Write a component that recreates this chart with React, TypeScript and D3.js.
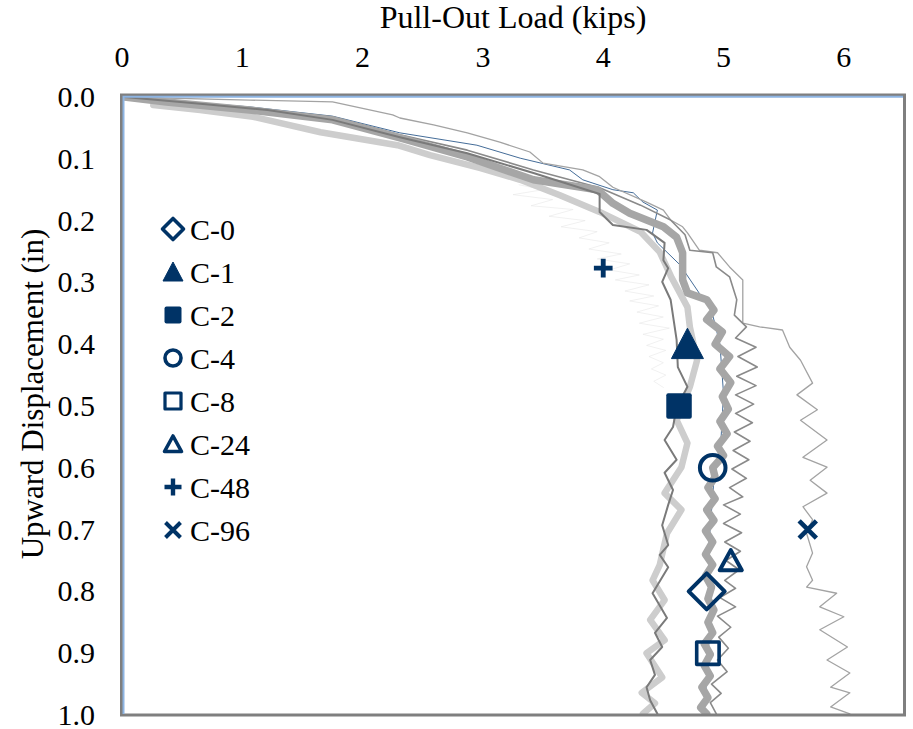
import React from 'react';
import * as d3 from 'd3';

// Pull-out curves: [load (kips), displacement (in)]
const lightThick: [number, number][] = [
  [0.26, 0.013], [0.65, 0.021], [1.09, 0.032], [1.65, 0.057], [2.29, 0.078], [2.56, 0.094],
  [2.98, 0.115], [3.31, 0.134], [3.64, 0.159], [3.97, 0.186], [4.31, 0.218], [4.47, 0.251],
  [4.57, 0.293], [4.70, 0.340], [4.72, 0.372], [4.78, 0.426], [4.72, 0.469], [4.61, 0.523],
  [4.70, 0.560], [4.65, 0.599], [4.51, 0.641], [4.65, 0.668], [4.53, 0.706], [4.47, 0.757],
  [4.41, 0.782], [4.51, 0.814], [4.39, 0.846], [4.51, 0.879], [4.36, 0.900], [4.49, 0.939],
  [4.32, 0.964], [4.43, 0.981], [4.33, 0.998],
];

const darkThin: [number, number][] = [
  [0.02, 0.0], [0.65, 0.011], [1.21, 0.021], [1.75, 0.037], [2.31, 0.065], [2.87, 0.091],
  [3.42, 0.123], [3.97, 0.157], [3.97, 0.186], [4.08, 0.207], [4.36, 0.215], [4.51, 0.236],
  [4.50, 0.264], [4.54, 0.277], [4.49, 0.299], [4.56, 0.328], [4.61, 0.393], [4.62, 0.437],
  [4.70, 0.469], [4.61, 0.502], [4.58, 0.534], [4.51, 0.555], [4.61, 0.587], [4.51, 0.608],
  [4.58, 0.636], [4.54, 0.660], [4.49, 0.693], [4.54, 0.725], [4.47, 0.741], [4.54, 0.761],
  [4.41, 0.803], [4.53, 0.843], [4.43, 0.867], [4.49, 0.890], [4.39, 0.911], [4.43, 0.935],
  [4.36, 0.955], [4.39, 0.976], [4.45, 0.998],
];

const midThick: [number, number][] = [
  [0.02, 0.0], [0.37, 0.008], [1.06, 0.021], [1.75, 0.037], [2.31, 0.066], [2.87, 0.097],
  [3.42, 0.134], [3.95, 0.150], [4.08, 0.172], [4.22, 0.188], [4.50, 0.210], [4.61, 0.227],
  [4.66, 0.252], [4.66, 0.296], [4.70, 0.317], [4.86, 0.328], [4.92, 0.345], [4.86, 0.360],
  [4.99, 0.380], [4.93, 0.400], [5.05, 0.420], [4.97, 0.440], [5.06, 0.462], [4.99, 0.485],
  [5.04, 0.505], [4.97, 0.525], [5.03, 0.545], [4.95, 0.565], [5.00, 0.580], [4.91, 0.600],
  [4.93, 0.615], [4.87, 0.632], [4.93, 0.650], [4.86, 0.668], [4.92, 0.685], [4.85, 0.702],
  [4.91, 0.720], [4.85, 0.740], [4.91, 0.757], [4.85, 0.775], [4.90, 0.793], [4.87, 0.812],
  [4.92, 0.830], [4.87, 0.850], [4.91, 0.867], [4.84, 0.885], [4.89, 0.902], [4.84, 0.920],
  [4.89, 0.937], [4.82, 0.955], [4.87, 0.972], [4.81, 0.988], [4.86, 0.998],
];

const midZigzag: [number, number][] = [
  [0.02, 0.0], [1.06, 0.018], [1.75, 0.032], [2.31, 0.061], [2.87, 0.086], [3.42, 0.118],
  [3.97, 0.147], [4.31, 0.175], [4.56, 0.199], [4.68, 0.223], [4.72, 0.248], [4.91, 0.252],
  [4.94, 0.275], [5.05, 0.291], [5.11, 0.328], [5.09, 0.353], [5.19, 0.372], [5.10, 0.390],
  [5.27, 0.405], [5.12, 0.420], [5.28, 0.437], [5.11, 0.452], [5.27, 0.467], [5.10, 0.482],
  [5.25, 0.497], [5.10, 0.512], [5.24, 0.527], [5.09, 0.542], [5.22, 0.557], [5.08, 0.572],
  [5.21, 0.587], [5.07, 0.602], [5.19, 0.617], [5.05, 0.632], [5.16, 0.647], [5.00, 0.660],
  [5.14, 0.675], [5.00, 0.690], [5.15, 0.705], [5.01, 0.720], [5.14, 0.735], [5.02, 0.750],
  [5.13, 0.765], [5.01, 0.782], [5.10, 0.795], [4.97, 0.810], [5.10, 0.825], [4.95, 0.840],
  [5.06, 0.858], [4.96, 0.874], [5.04, 0.892], [4.95, 0.911], [5.03, 0.930], [4.90, 0.950],
  [4.98, 0.965], [4.89, 0.980], [4.94, 0.998],
];

const farRight: [number, number][] = [
  [0.02, 0.0], [1.06, 0.005], [1.75, 0.008], [2.25, 0.029], [2.31, 0.034], [2.59, 0.045],
  [2.87, 0.058], [3.14, 0.073], [3.39, 0.089], [3.50, 0.107], [3.83, 0.118], [3.97, 0.129],
  [4.08, 0.146], [4.36, 0.170], [4.50, 0.183], [4.56, 0.199], [4.66, 0.210], [4.70, 0.220],
  [4.80, 0.248], [4.95, 0.252], [5.05, 0.275], [5.16, 0.296], [5.16, 0.328], [5.16, 0.366],
  [5.30, 0.372], [5.49, 0.377], [5.55, 0.405], [5.64, 0.426], [5.74, 0.463], [5.61, 0.482],
  [5.78, 0.506], [5.64, 0.523], [5.86, 0.555], [5.66, 0.583], [5.86, 0.599], [5.72, 0.620],
  [5.86, 0.641], [5.66, 0.663], [5.74, 0.684], [5.69, 0.706], [5.74, 0.738], [5.69, 0.760],
  [5.74, 0.782], [5.69, 0.793], [5.94, 0.803], [5.80, 0.825], [6.00, 0.841], [5.80, 0.862],
  [6.03, 0.890], [5.86, 0.911], [6.05, 0.932], [5.89, 0.955], [6.05, 0.964], [5.89, 0.987],
  [6.05, 0.998],
];

const blueThin: [number, number][] = [
  [0.02, 0.0], [1.06, 0.016], [1.75, 0.031], [2.31, 0.058], [2.95, 0.078], [3.31, 0.099],
  [3.72, 0.118], [3.83, 0.134], [4.08, 0.150], [4.25, 0.155], [4.33, 0.170], [4.45, 0.183],
  [4.41, 0.220], [4.45, 0.236], [4.64, 0.272], [4.80, 0.318], [4.90, 0.345], [4.97, 0.400],
  [5.00, 0.480], [4.98, 0.550], [4.92, 0.620], [4.88, 0.720], [4.89, 0.850], [4.84, 0.998],
];

const hairline: [number, number][] = [
  [3.30, 0.142], [3.50, 0.150], [3.25, 0.158], [3.58, 0.166], [3.40, 0.176], [3.75, 0.182],
  [3.55, 0.193], [3.85, 0.200], [3.65, 0.210], [3.95, 0.218], [3.80, 0.228], [4.05, 0.236],
  [3.88, 0.246], [4.15, 0.254], [3.95, 0.262], [4.22, 0.270], [4.05, 0.280], [4.30, 0.288],
  [4.10, 0.296], [4.38, 0.304], [4.18, 0.314], [4.42, 0.322], [4.22, 0.330], [4.46, 0.338],
  [4.28, 0.348], [4.50, 0.356], [4.30, 0.366], [4.55, 0.374], [4.33, 0.384], [4.50, 0.392],
  [4.36, 0.402], [4.52, 0.410], [4.38, 0.420], [4.50, 0.430], [4.40, 0.440], [4.52, 0.450],
  [4.42, 0.460], [4.50, 0.470],
];

// Specimen markers
const specimens = ['C-0', 'C-1', 'C-2', 'C-4', 'C-8', 'C-24', 'C-48', 'C-96'];
const markerLoads = [4.86, 4.70, 4.63, 4.91, 4.87, 5.06, 4.00, 5.70];
const markerDisps = [0.80, 0.40, 0.50, 0.60, 0.90, 0.75, 0.277, 0.70];

const xTicks = [0, 1, 2, 3, 4, 5, 6];
const yTicks = [0, 0.1, 0.2, 0.3, 0.4, 0.5, 0.6, 0.7, 0.8, 0.9, 1.0];

const NAVY = '#003366';
const FONT = "'Liberation Serif', 'Times New Roman', serif";

// draw a marker shape centred on 0,0 with size s (overall width)
function Marker({ name, s, sw }: { name: string; s: number; sw: number }) {
  const h = s / 2;
  switch (name) {
    case 'C-0':
      return <path d={`M0,${-h}L${h},0L0,${h}L${-h},0Z`} fill="none" stroke={NAVY} strokeWidth={sw} strokeLinejoin="round" />;
    case 'C-1':
      return <path d={`M0,${-h}L${h},${h * 0.9}L${-h},${h * 0.9}Z`} fill={NAVY} stroke={NAVY} strokeWidth={1} strokeLinejoin="round" />;
    case 'C-2':
      return <rect x={-h * 0.85} y={-h * 0.85} width={s * 0.85} height={s * 0.85} rx={2} fill={NAVY} />;
    case 'C-4':
      return <circle r={h * 0.8} fill="none" stroke={NAVY} strokeWidth={sw} />;
    case 'C-8':
      return <rect x={-h * 0.8} y={-h * 0.8} width={s * 0.8} height={s * 0.8} fill="none" stroke={NAVY} strokeWidth={sw * 0.9} strokeLinejoin="round" />;
    case 'C-24':
      return <path d={`M0,${-h * 0.8}L${h * 0.85},${h * 0.75}L${-h * 0.85},${h * 0.75}Z`} fill="none" stroke={NAVY} strokeWidth={sw} strokeLinejoin="round" />;
    case 'C-48':
      return <path d={`M${-h * 0.85},0H${h * 0.85}M0,${-h * 0.85}V${h * 0.85}`} stroke={NAVY} strokeWidth={s * 0.22} />;
    default:
      return <path d={`M${-h * 0.75},${-h * 0.75}L${h * 0.75},${h * 0.75}M${h * 0.75},${-h * 0.75}L${-h * 0.75},${h * 0.75}`} stroke={NAVY} strokeWidth={s * 0.2} />;
  }
}

const plotSizes = [36, 32, 30, 32, 28, 26, 22, 23];

export default function App() {
  const width = 913;
  const height = 729;
  const x = d3.scaleLinear().domain([0, 6.5]).range([122, 904]);
  const y = d3.scaleLinear().domain([0, 1]).range([97, 715]);
  const line = d3.line<[number, number]>().x(d => x(d[0])).y(d => y(d[1]));

  const series = [
    { data: hairline, color: '#e2e2e2', w: 0.5 },
    { data: blueThin, color: '#2f5b8c', w: 0.9 },
    { data: farRight, color: '#a3a3a3', w: 1.3 },
    { data: midZigzag, color: '#8a8a8a', w: 1.6 },
    { data: lightThick, color: '#cdcdcd', w: 6.5 },
    { data: midThick, color: '#a6a6a6', w: 7.5 },
    { data: darkThin, color: '#7a7a7a', w: 2 },
  ];

  const txt = { fontFamily: FONT };

  return (
    <svg width={width} height={height} style={{ position: 'absolute', left: 0, top: 0, background: '#fff' }}>
      <rect width={width} height={height} fill="#fff" />
      {/* title */}
      <text x={513} y={28} textAnchor="middle" fontSize={32} fill="#000" style={txt}>Pull-Out Load (kips)</text>
      {/* y label */}
      <text transform="translate(43,394) rotate(-90)" textAnchor="middle" fontSize={31} fill="#000" style={txt}>Upward Displacement (in)</text>

      {/* x tick labels on top */}
      {xTicks.map(t => (
        <text key={t} x={x(t)} y={67} textAnchor="middle" fontSize={30} fill="#000" style={txt}>{t}</text>
      ))}
      {/* y tick labels */}
      {yTicks.map(t => (
        <text key={t} x={95} y={y(t)} dy="0.33em" textAnchor="end" fontSize={30} fill="#000" style={txt}>{t.toFixed(1)}</text>
      ))}

      <defs>
        <clipPath id="plot">
          <rect x={122} y={97} width={782} height={618} />
        </clipPath>
      </defs>

      <g clipPath="url(#plot)">
        {series.map((s, i) => (
          <path key={i} d={line(s.data) ?? ''} fill="none" stroke={s.color} strokeWidth={s.w} strokeLinejoin="round" strokeLinecap="round" />
        ))}
      </g>

      {/* frame */}
      <rect x={121.5} y={95} width={783} height={620} fill="none" stroke="#7f7f7f" strokeWidth={3} />
      <path d="M123.5,714V96.8H903" fill="none" stroke="#8db4e2" strokeWidth={2} />

      {/* data markers */}
      {specimens.map((name, i) => (
        <g key={name} transform={`translate(${x(markerLoads[i])},${y(markerDisps[i])})`}>
          <Marker name={name} s={plotSizes[i]} sw={4} />
        </g>
      ))}

      {/* legend */}
      {specimens.map((name, i) => (
        <g key={name} transform={`translate(173,${229 + i * 43})`}>
          <Marker name={name} s={name === 'C-0' ? 21 : 20} sw={3.6} />
          <text x={17} dy="0.35em" fontSize={30} fill="#000" style={txt}>{name}</text>
        </g>
      ))}
    </svg>
  );
}
